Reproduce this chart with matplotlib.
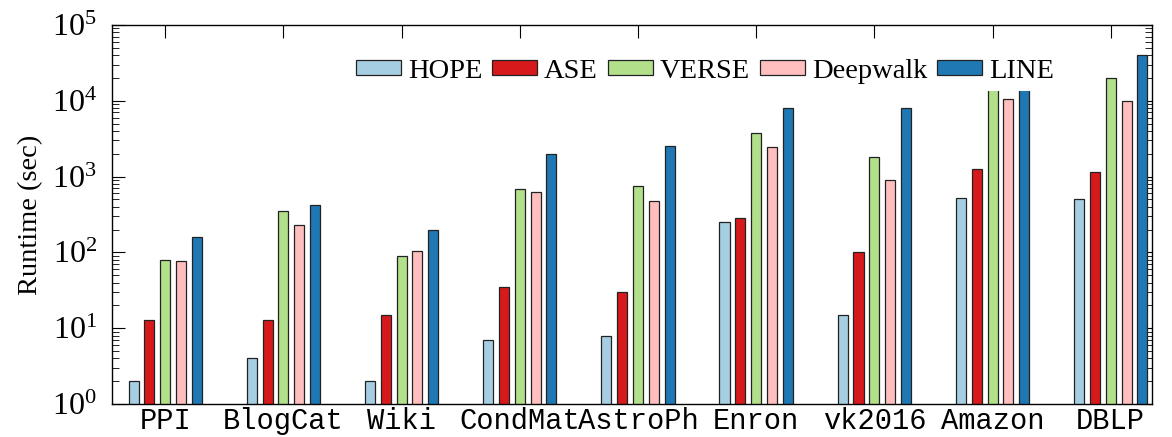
import numpy as np
import matplotlib
matplotlib.use("Agg")
import matplotlib.pyplot as plt
from matplotlib.ticker import LogLocator, NullFormatter

plt.rcParams["font.family"] = ["Liberation Serif", "DejaVu Serif"]
plt.rcParams["mathtext.fontset"] = "custom"
plt.rcParams["mathtext.rm"] = "Liberation Serif"
plt.rcParams["mathtext.it"] = "Liberation Serif:italic"

datasets = ["PPI", "BlogCat", "Wiki", "CondMat", "AstroPh", "Enron", "vk2016", "Amazon", "DBLP"]
methods = ["HOPE", "ASE", "VERSE", "Deepwalk", "LINE"]

hope = [2, 4, 2, 7, 8, 250, 15, 520, 500]
ase = [13, 13, 15, 35, 30, 280, 100, 1250, 1150]
verse = [80, 350, 90, 680, 750, 3700, 1800, 20000, 20000]
deepwalk = [78, 230, 105, 630, 470, 2450, 900, 10500, 9800]
line = [160, 420, 200, 2000, 2500, 8000, 8000, 28000, 40000]

colors = ["#a6cee3", "#d7191c", "#b2df8a", "#ffbfbf", "#1f78b4"]

fig = plt.figure(figsize=(11.72, 4.37), dpi=100)
ax = fig.add_axes([0.0956, 0.0755, 0.8874, 0.8675])

x = np.arange(len(datasets))
slot = 0.134
width = 0.085
series = [hope, ase, verse, deepwalk, line]
for i, (name, vals, c) in enumerate(zip(methods, series, colors)):
    ax.bar(x + (i - 2) * slot, vals, width=width, color=c,
           edgecolor="#222222", linewidth=0.9, label=name, zorder=2)

ax.set_yscale("log")
ax.set_ylim(1, 1e5)
ax.set_xlim(-0.45, 8.35)
ax.set_xticks(x)
ax.set_xticklabels(datasets, family=["Liberation Mono", "DejaVu Sans Mono"], fontsize=20.7)
ax.yaxis.set_major_locator(LogLocator(base=10, numticks=10))
ax.yaxis.set_minor_locator(LogLocator(base=10, subs=np.arange(2, 10), numticks=20))
ax.yaxis.set_minor_formatter(NullFormatter())
ax.tick_params(axis="both", which="both", direction="in", top=True, right=True)
ax.tick_params(axis="x", which="major", length=9, width=0.8, pad=2)
ax.tick_params(axis="y", which="major", length=9, width=0.8, labelsize=23, pad=11)
ax.tick_params(axis="y", which="minor", length=5, width=0.6)
ax.tick_params(axis="x", which="minor", bottom=False, top=False)
for s in ax.spines.values():
    s.set_linewidth(1.0)

ax.set_ylabel("Runtime (sec)", fontsize=20.5, labelpad=6)

leg = ax.legend(ncol=5, loc="upper right", bbox_to_anchor=(0.913, 0.93),
                fontsize=20.5, frameon=True, fancybox=False, framealpha=1.0,
                handlelength=1.58, handleheight=0.46, handletextpad=0.25,
                columnspacing=0.35, borderpad=0.25, borderaxespad=0.0)
leg.get_frame().set_edgecolor("none")
leg.get_frame().set_facecolor("white")
leg.set_zorder(5)

fig.savefig("out.png", dpi=100)
